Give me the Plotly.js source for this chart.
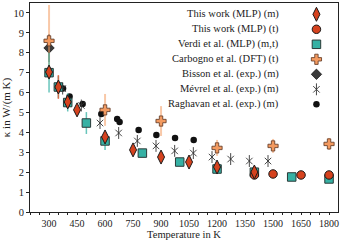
<!DOCTYPE html>
<html><head><meta charset="utf-8">
<script src="https://cdn.plot.ly/plotly-3.0.1.min.js"></script>
<style>html,body{margin:0;padding:0;background:#fff}#chart{width:342px;height:240px}</style>
</head><body><div id="chart"></div>
<script>
// ---- data (temperature in K, kappa in W/(m K)) ----
const mlpMeltT = [300, 350, 400, 450, 600, 750, 900, 1050, 1200, 1400];
const mlpMeltK = [7.03, 6.28, 5.53, 5.13, 3.77, 3.12, 2.76, 2.51, 2.26, 2.01];
const mlpMeltErr = [0.1, 0.6, 0.1, 0.1, 0.1, 0.05, 0.05, 0.05, 0.05, 0.05];

const mlpThermT = [1400, 1500, 1650, 1800];
const mlpThermK = [1.86, 1.91, 1.86, 1.86];

const verdiT = [300, 350, 400, 500, 600, 800, 1000, 1200, 1400, 1600, 1800];
const verdiK = [7.0, 6.28, 5.5, 4.47, 3.57, 2.96, 2.51, 2.16, 2.0, 1.76, 1.66];
const verdiErr = [1.0, 0.55, 0.45, 0.55, 0.45, 0.15, 0.1, 0.1, 0.1, 0.1, 0.1];

const carbT = [300, 600, 900, 1200, 1500, 1800];
const carbK = [8.6, 5.13, 4.57, 3.22, 3.32, 3.42];
const carbErr = [1.8, 0.8, 0.75, 0.4, 0.35, 0.3];

const bissonT = [300];
const bissonK = [8.24];
const bissonErr = [0.7];

const mevrelT = [373, 473, 573, 673, 773, 873, 973, 1073, 1173, 1273, 1373, 1473];
const mevrelK = [6.2, 5.35, 4.47, 3.97, 3.57, 3.32, 3.07, 2.96, 2.76, 2.66, 2.56, 2.56];

const raghT = [375, 410, 480, 580, 665, 678, 780, 875, 975, 1075];
const raghK = [6.2, 5.8, 5.43, 4.92, 4.67, 4.52, 4.12, 3.87, 3.72, 3.62];

const seriesNames = [
  'This work (MLP) (m)', 'This work (MLP) (t)', 'Verdi et al. (MLP) (m,t)',
  'Carbogno et al. (DFT) (t)', 'Bisson et al. (exp.) (m)', 'Mévrel et al. (exp.) (m)',
  'Raghavan et al. (exp.) (m)'
];
const xTickStart = 300, xTickStep = 150;

// ---- styles ----
const FONT = 'Liberation Serif, Times New Roman, serif';
const RED = '#d5421e', TEAL = '#36b1a4', ORANGE = '#f39a60';
const mk = {
  melt:  {symbol: 'diamond-tall', size: 10, color: RED, line: {color: '#1a1a1a', width: 1}},
  therm: {symbol: 'circle', size: 8.5, color: RED, line: {color: '#1a1a1a', width: 1}},
  verdi: {symbol: 'square', size: 8.5, color: TEAL, line: {color: '#2a3a38', width: 1}},
  carb:  {symbol: 'cross', size: 8.5, color: ORANGE, line: {color: '#5a3320', width: 0.8}},
  bisson:{symbol: 'diamond', size: 8, color: '#3a3a3a', line: {color: '#1a1a1a', width: 0.8}},
  mevX:  {symbol: 'x-thin-open', size: 6.5, color: '#333', line: {color: '#333', width: 0.9}},
  mevV:  {symbol: 'line-ns-open', size: 8.5, color: '#333', line: {color: '#333', width: 0.9}},
  ragh:  {symbol: 'circle', size: 6.5, color: '#111', line: {color: '#111', width: 0}}
};
function err(arr, color, th) {
  return {type: 'data', array: arr, visible: true, color: color, thickness: th, width: 0};
}
const base = {type: 'scatter', mode: 'markers', showlegend: false, hoverinfo: 'skip'};
const traces = [
  Object.assign({}, base, {x: raghT, y: raghK, marker: mk.ragh}),
  Object.assign({}, base, {x: mevrelT, y: mevrelK, marker: mk.mevX}),
  Object.assign({}, base, {x: mevrelT, y: mevrelK, marker: mk.mevV}),
  Object.assign({}, base, {x: bissonT, y: bissonK, marker: mk.bisson, error_y: err(bissonErr, '#555', 1.2)}),
  Object.assign({}, base, {x: carbT, y: carbK, marker: mk.carb, error_y: err(carbErr, 'rgba(243,154,96,0.55)', 2)}),
  Object.assign({}, base, {x: verdiT, y: verdiK, marker: mk.verdi, error_y: err(verdiErr, 'rgba(54,177,164,0.75)', 1.5)}),
  Object.assign({}, base, {x: mlpThermT, y: mlpThermK, marker: mk.therm}),
  Object.assign({}, base, {x: mlpMeltT, y: mlpMeltK, marker: mk.melt, error_y: err(mlpMeltErr, 'rgba(230,90,50,0.8)', 1.5)})
];

// ---- hand-made legend (text right-aligned, key on the right) ----
const legTop = 0.946, legStep = 0.0718, legTextX = 0.816, legKeyX = 0.93;
const keyMarkers = [[mk.melt], [mk.therm], [mk.verdi], [mk.carb], [mk.bisson], [mk.mevX, mk.mevV], [mk.ragh]];
const annotations = [];
seriesNames.forEach((name, i) => {
  const yy = legTop - i * legStep;
  annotations.push({xref: 'paper', yref: 'paper', x: legTextX, y: yy, xanchor: 'right', yanchor: 'middle',
    text: name, showarrow: false, font: {family: FONT, size: 10.5, color: '#222'}});
  keyMarkers[i].forEach(m => {
    traces.push(Object.assign({}, base, {xaxis: 'x2', yaxis: 'y2', x: [legKeyX], y: [yy], marker: m}));
  });
});

const layout = {
  width: 342, height: 240,
  margin: {l: 30, r: 4, t: 3, b: 28},
  paper_bgcolor: '#fff', plot_bgcolor: '#fff',
  font: {family: FONT, color: '#222'},
  xaxis: {
    range: [198, 1848], tickmode: 'linear', tick0: xTickStart, dtick: xTickStep,
    ticks: 'outside', ticklen: 2, tickcolor: '#222', tickfont: {size: 10},
    minor: {dtick: 50, tick0: 0, ticks: 'outside', ticklen: 1.5, tickcolor: '#222'},
    showline: true, mirror: true, linecolor: '#222', linewidth: 1,
    showgrid: false, zeroline: false,
    title: {text: 'Temperature in K', font: {size: 10.5}, standoff: 0}
  },
  yaxis: {
    range: [0, 10.5], tickmode: 'linear', tick0: 0, dtick: 1,
    ticks: 'outside', ticklen: 3, tickcolor: '#222', tickfont: {size: 10.5},
    showline: true, mirror: true, linecolor: '#222', linewidth: 1,
    showgrid: false, zeroline: false,
    title: {text: 'κ in W/(m K)', font: {size: 11}, standoff: 3}
  },
  xaxis2: {overlaying: 'x', range: [0, 1], visible: false, fixedrange: true},
  yaxis2: {overlaying: 'y', range: [0, 1], visible: false, fixedrange: true},
  annotations: annotations,
  showlegend: false
};
Plotly.newPlot('chart', traces, layout, {staticPlot: true, displayModeBar: false});
</script>
</body></html>
